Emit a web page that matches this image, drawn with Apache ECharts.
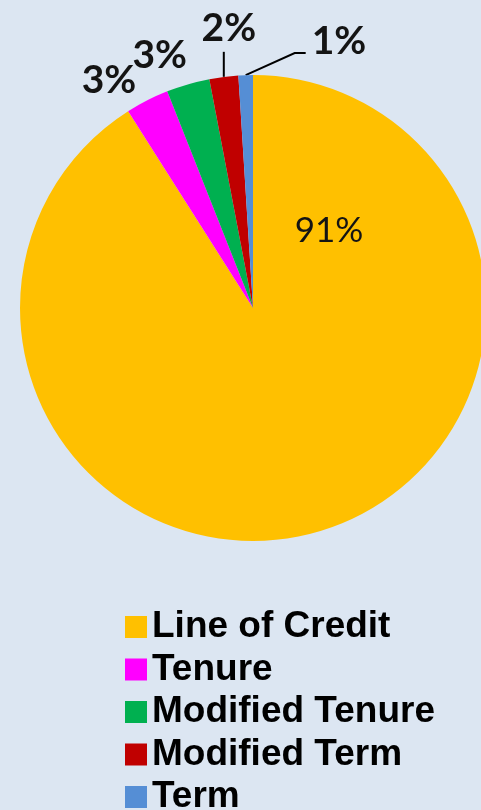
<!DOCTYPE html>
<html>
<head>
<meta charset="utf-8">
<script src="https://cdn.jsdelivr.net/npm/echarts@6/dist/echarts.min.js"></script>
<style>
  html, body { margin: 0; padding: 0; background: #dce6f2; }
  #chart { width: 481px; height: 810px; }
</style>
</head>
<body>
<div id="chart"></div>
<script>
// reverse mortgage payment plan share
var categories = ['Line of Credit', 'Tenure', 'Modified Tenure', 'Modified Term', 'Term'];
var shares = [91, 3, 3, 2, 1];
var colors = ['#ffc000', '#ff00ff', '#00b050', '#c00000', '#558ed5'];

var CX = 253, CY = 308, R = 233;
var total = shares.reduce(function (a, b) { return a + b; }, 0);

// point on the rim at the middle of slice i (clockwise from 12 o'clock)
function rimPoint(i) {
  var before = 0;
  for (var k = 0; k < i; k++) before += shares[k];
  var ang = (before + shares[i] / 2) / total * Math.PI * 2;
  return [CX + R * Math.sin(ang), CY - R * Math.cos(ang)];
}

var chart = echarts.init(document.getElementById('chart'));

var pieData = categories.map(function (name, i) {
  var item = { name: name, value: shares[i], itemStyle: { color: colors[i] } };
  if (i === 0) {
    item.label = { position: 'inside', fontFamily: 'Lato', fontWeight: 'normal', fontSize: 35 };
  }
  item.labelLine = { show: name === 'Term' || name === 'Modified Term' };
  return item;
});

var option = {
  backgroundColor: '#dce6f2',
  animation: false,
  legend: {
    orient: 'vertical',
    left: 125,
    top: 606,
    height: 240,
    padding: 0,
    itemWidth: 22,
    itemHeight: 22,
    itemGap: 0.5,
    icon: 'rect',
    data: categories,
    textStyle: {
      fontFamily: 'Liberation Sans',
      fontWeight: 'bold',
      fontSize: 37,
      lineHeight: 42,
      color: '#000'
    }
  },
  series: [{
    type: 'pie',
    center: [CX, CY],
    radius: R,
    startAngle: 90,
    clockwise: true,
    avoidLabelOverlap: false,
    label: {
      show: true,
      position: 'outside',
      formatter: '{c}%',
      fontFamily: '"Liberation Sans Narrow", Lato',
      fontSize: 39,
      fontWeight: 'bold',
      color: '#141414'
    },
    labelLine: {
      length: 20,
      length2: 0,
      lineStyle: { color: '#000', width: 2 }
    },
    labelLayout: function (p) {
      var i = p.dataIndex;
      var e = rimPoint(i);
      if (i === 0) {
        return { x: CX + 76, y: CY - 77, align: 'center', verticalAlign: 'middle' };
      }
      if (i === 1) {
        return { x: e[0] - 11, y: e[1] - 20, align: 'right', verticalAlign: 'middle' };
      }
      if (i === 2) {
        return { x: e[0] - 1, y: e[1] - 29, align: 'right', verticalAlign: 'middle' };
      }
      if (i === 3) {
        return {
          x: e[0] + 5, y: e[1] - 48, align: 'center', verticalAlign: 'middle',
          labelLinePoints: [e, [e[0], e[1] - 25], [e[0], e[1] - 25]]
        };
      }
      return {
        x: e[0] + 66, y: e[1] - 34, align: 'left', verticalAlign: 'middle',
        labelLinePoints: [e, [e[0] + 49, e[1] - 22], [e[0] + 60, e[1] - 22]]
      };
    },
    data: pieData
  }]
};
chart.setOption(option);
</script>
</body>
</html>
